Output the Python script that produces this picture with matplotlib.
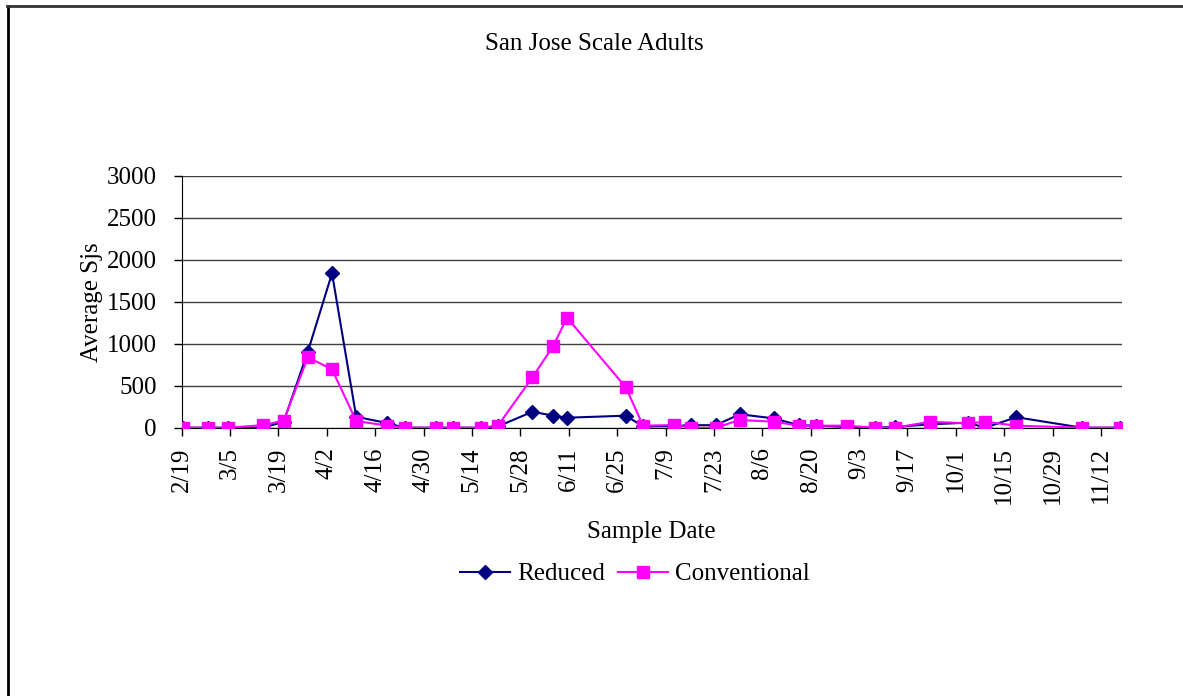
import datetime as dt
import matplotlib
matplotlib.use("Agg")
import matplotlib.pyplot as plt
from matplotlib.lines import Line2D

# Fechas de muestreo (mes/dia) y promedios
fechas = ["2/19", "2/26", "3/4", "3/14", "3/20", "3/27", "4/3", "4/10",
          "4/19", "4/24", "5/3", "5/8", "5/16", "5/21", "5/31", "6/6",
          "6/10", "6/27", "7/2", "7/11", "7/16", "7/23", "7/30", "8/9",
          "8/16", "8/21", "8/30", "9/7", "9/13", "9/23", "10/4", "10/9",
          "10/18", "11/6", "11/17"]

reduced = [0, 0, 0, 0, 70, 905, 1838, 130,
           55, 0, 0, 0, 0, 15, 190, 143,
           119, 143, 15, 20, 30, 30, 160, 110,
           30, 24, 10, 0, 10, 40, 60, 0,
           125, 0, 0]

conventional = [0, 0, 0, 30, 84, 838, 695, 80,
                24, 0, 0, 0, 0, 24, 600, 973,
                1310, 481, 24, 32, 0, 0, 92, 71,
                24, 24, 24, 0, 0, 71, 52, 71,
                24, 0, 0]

y_ticks = [0, 500, 1000, 1500, 2000, 2500, 3000]

ANIO = 2007


def a_fecha(s):
    m, d = s.split("/")
    # punto centrado en el dia (como Excel)
    return dt.datetime(ANIO, int(m), int(d), 12)


x = [a_fecha(f) for f in fechas]

plt.rcParams["font.family"] = ["Liberation Serif", "DejaVu Serif"]
plt.rcParams["font.size"] = 18

fig = plt.figure(figsize=(11.83, 6.96), dpi=100)
W, H = 1183, 696
ax = fig.add_axes([181.7 / W, 1 - 427.7 / H, (1121.7 - 181.7) / W, (427.7 - 175.7) / H])

ax.plot(x, reduced, color="#000080", marker="D", markersize=7.5, linewidth=1.5,
        label="Reduced", zorder=3)
ax.plot(x, conventional, color="#FF00FF", marker="s", markersize=9, linewidth=1.5,
        label="Conventional", zorder=4)

inicio = dt.datetime(ANIO, 2, 19)
ax.set_xlim(inicio, dt.datetime(ANIO, 11, 18))
ax.set_ylim(0, 3000)
ax.set_yticks(y_ticks)

marcas = [inicio + dt.timedelta(days=14 * i) for i in range(20)]
ax.set_xticks(marcas)
ax.set_xticklabels([f"{d.month}/{d.day}" for d in marcas], rotation=90)

ax.grid(axis="y", color="#404040", linewidth=1)
ax.set_axisbelow(True)
for lado in ["top", "right"]:
    ax.spines[lado].set_visible(False)
ax.tick_params(axis="both", direction="out", length=6, width=1, pad=12)
ax.tick_params(axis="x", pad=8)

ax.set_xlabel("Sample Date", labelpad=12)
ax.set_ylabel("Average Sjs", labelpad=3)

fig.text(594 / W, 1 - 44 / H, "San Jose Scale Adults", ha="center", va="center")

ax.legend(loc="center", bbox_to_anchor=((635 - 181.7) / 940, (427.7 - 574) / 252), ncol=2,
          frameon=False, handlelength=2.0, columnspacing=0.5, handletextpad=0.3)

# borde del grafico (cortado a la derecha y abajo)
fig.add_artist(Line2D([8 / W, 8 / W], [0, 1 - 6 / H], color="black", linewidth=2))
fig.add_artist(Line2D([7 / W, 1], [1 - 6 / H, 1 - 6 / H], color="#333333", linewidth=2))

plt.savefig("out.png", dpi=100)
